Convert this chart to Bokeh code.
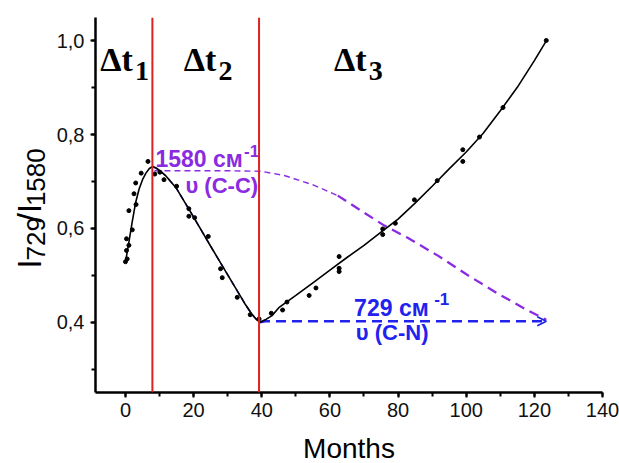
import math
from bokeh.plotting import figure
from bokeh.layouts import row, column
from bokeh.models import (Span, Arrow, OpenHead, SingleIntervalTicker,
                          CustomJSTickFormatter, Range1d)
from bokeh.core.properties import value
from bokeh.embed import file_html
from bokeh.resources import INLINE

# ---- data ----
months = [0.0, 0.3, 0.3, 0.5, 1.0, 1.0, 2.0, 2.5, 3.0, 3.1, 4.6, 6.6, 8.6, 10.1, 11.3,
          15.0, 18.6, 18.6, 20.3, 24.3, 27.9, 28.4, 32.8, 36.6, 39.2, 42.8, 46.1, 47.4,
          53.9, 55.9, 62.7, 62.7, 62.7, 75.5, 75.5, 79.2, 84.8, 91.5, 99.0, 99.0, 103.9,
          110.8, 123.5]
ratio = [0.529, 0.553, 0.578, 0.535, 0.564, 0.638, 0.597, 0.674, 0.697, 0.651, 0.718,
         0.743, 0.716, 0.720, 0.704, 0.690, 0.642, 0.626, 0.623, 0.583, 0.514, 0.495,
         0.453, 0.416, 0.407, 0.419, 0.426, 0.443, 0.457, 0.473, 0.540, 0.515, 0.508,
         0.599, 0.587, 0.611, 0.661, 0.702, 0.768, 0.743, 0.795, 0.858, 1.001]

fit_x = [0, 1, 2, 3, 4, 5, 6, 7, 8, 9, 10, 12, 15, 20, 25, 30, 35, 37, 38.5, 39.5, 41,
         43, 45, 50, 55, 60, 65, 70, 75, 80, 85, 90, 95, 100, 105, 110, 115, 120, 123.5]
fit_y = [0.528, 0.571, 0.615, 0.656, 0.684, 0.704, 0.718, 0.728, 0.732, 0.729, 0.724,
         0.711, 0.685, 0.624, 0.562, 0.501, 0.440, 0.418, 0.405, 0.400, 0.405, 0.414,
         0.431, 0.457, 0.484, 0.511, 0.538, 0.564, 0.592, 0.620, 0.654, 0.690, 0.727,
         0.763, 0.803, 0.851, 0.901, 0.958, 1.000]

# 729 cm-1 (C-N) guide: along the decay, then flat
cn_curve_x = [8, 10, 12, 15, 20, 25, 30, 35, 37, 38.5, 39.5]
cn_curve_y = [0.732, 0.724, 0.711, 0.685, 0.624, 0.562, 0.501, 0.440, 0.418, 0.405, 0.400]
cn_flat_x = [39.5, 41, 123.5]
cn_flat_y = [0.400, 0.402, 0.402]

# 1580 cm-1 (C-C) guide
cc_thin_x = [8.5, 20, 30, 39.7, 46.6, 55.4, 62.3]
cc_thin_y = [0.723, 0.723, 0.723, 0.722, 0.713, 0.692, 0.670]
cc_thick_x = [62.3, 69.1, 76.0, 82.8, 91.7, 100.5, 109.3, 118.1, 123.5]
cc_thick_y = [0.670, 0.638, 0.606, 0.580, 0.542, 0.500, 0.461, 0.425, 0.405]

boundaries = [7.9, 39.2]
x_ticks_interval = 20
y_ticks_interval = 0.2

RED = "#DD2222"
BLUE = "#2222EE"
PURPLE = "#8A2BE2"
SANS = "Liberation Sans"
SERIF = "Liberation Serif"

TOP_H = 430      # height of the plot row
BOT_H = 33       # height of the x-title strip
STRIP_W = 53     # width of the y-title strip

# ---------------- main plot ----------------
p = figure(width=619 - STRIP_W, height=TOP_H, x_range=Range1d(-8.8, 140),
           y_range=Range1d(0.25, 1.05), output_backend="svg", toolbar_location=None,
           min_border_left=95 - STRIP_W, min_border_right=17, min_border_top=17,
           min_border_bottom=38)
p.outline_line_color = None
p.grid.visible = False
p.background_fill_color = "white"
p.border_fill_color = "white"

p.xaxis.ticker = SingleIntervalTicker(interval=x_ticks_interval, num_minor_ticks=2)
p.yaxis.ticker = SingleIntervalTicker(interval=y_ticks_interval, num_minor_ticks=2)
p.yaxis.formatter = CustomJSTickFormatter(code="return tick.toFixed(1).replace('.', ',');")
for ax in (p.xaxis[0], p.yaxis[0]):
    ax.axis_line_width = 2.5
    ax.axis_line_color = "black"
    ax.major_tick_line_width = 2
    ax.minor_tick_line_width = 2
    ax.major_tick_in = 0
    ax.major_tick_out = 5
    ax.minor_tick_in = 0
    ax.minor_tick_out = 4
    ax.major_label_text_font = SANS
    ax.major_label_text_font_size = "20px"
    ax.major_label_text_color = "#111111"
p.yaxis.major_label_standoff = 6
p.xaxis.major_label_standoff = 5

# guide lines
p.line(cn_curve_x, cn_curve_y, line_color=BLUE, line_width=1.5, line_dash="6 4")
p.line(cn_flat_x, cn_flat_y, line_color=BLUE, line_width=2.5, line_dash="10 6")
p.line(cc_thin_x, cc_thin_y, line_color=PURPLE, line_width=1.4, line_dash="6 4")
p.line(cc_thick_x, cc_thick_y, line_color=PURPLE, line_width=2.3, line_dash="10 6")
p.add_layout(Arrow(end=OpenHead(size=9, line_color=BLUE, line_width=1.8),
                   x_start=cn_flat_x[-2], y_start=cn_flat_y[-2],
                   x_end=cn_flat_x[-1], y_end=cn_flat_y[-1], line_alpha=0))

# fit and data
p.line(fit_x, fit_y, line_color="black", line_width=1.6)
p.scatter(months, ratio, size=4, color="black")

for b in boundaries:
    p.add_layout(Span(location=b, dimension="height", line_color=RED, line_width=2))


def txt(fig, x, y, s, size, color="black", font=SANS, style="bold", angle=0.0,
        align="left"):
    fig.text([x], [y], text=[s], text_font=value(font), text_font_size=size,
             text_font_style=style, text_color=color, text_align=align,
             text_baseline="alphabetic", angle=angle)


# period labels
txt(p, -7.4, 0.9612, "Δt", "34px", font=SERIF)
txt(p, 2.8, 0.9360, "1", "28px", font=SERIF)
txt(p, 17.1, 0.9612, "Δt", "34px", font=SERIF)
txt(p, 27.3, 0.9360, "2", "28px", font=SERIF)
txt(p, 61.2, 0.9612, "Δt", "34px", font=SERIF)
txt(p, 71.4, 0.9360, "3", "28px", font=SERIF)

txt(p, 8.8, 0.7481, "1580 см", "23px", color=PURPLE)
txt(p, 34.8, 0.7646, "-1", "17px", color=PURPLE)
txt(p, 17.6, 0.6909, "υ (C-C)", "22px", color=PURPLE)

txt(p, 67.1, 0.4311, "729 см", "23px", color=BLUE)
txt(p, 90.6, 0.4487, "-1", "17px", color=BLUE)
txt(p, 67.6, 0.3772, "υ (C-N)", "22px", color=BLUE)

# ---------------- y-axis title strip ----------------
t = figure(width=STRIP_W, height=TOP_H, x_range=Range1d(0, STRIP_W), y_range=Range1d(0, TOP_H),
           output_backend="svg", toolbar_location=None, min_border=0,
           x_axis_type=None, y_axis_type=None)
t.outline_line_color = None
t.background_fill_color = "white"
t.border_fill_color = "white"

main_fs, sub_fs = 34, 26
pieces = [("I", main_fs, 0.0), ("729", sub_fs, 5.0), ("/I", main_fs, 0.0), ("1580", sub_fs, 5.0)]
w_em = {"I": 0.278, "/": 0.278, "7": 0.556, "2": 0.556, "9": 0.556, "1": 0.556,
        "5": 0.556, "8": 0.556, "0": 0.556}
ypos = TOP_H - 288.0
for s, fs, shift in pieces:
    txt(t, 38.5 + shift - 0.3 * fs, ypos, s, f"{fs}px", style="normal", angle=math.pi / 2)
    ypos += sum(w_em[c] for c in s) * fs

# ---------------- x-axis title strip ----------------
m = figure(width=619, height=BOT_H, x_range=Range1d(0, 619), y_range=Range1d(0, BOT_H),
           output_backend="svg", toolbar_location=None, min_border=0,
           x_axis_type=None, y_axis_type=None)
m.outline_line_color = None
m.background_fill_color = "white"
m.border_fill_color = "white"
txt(m, 348.5, 463 - (456 - 0.3 * 28), "Months", "28px", style="normal", align="center")

layout = column(row(t, p, spacing=0), m, spacing=0)
open("out.html", "w").write(file_html(layout, INLINE))
